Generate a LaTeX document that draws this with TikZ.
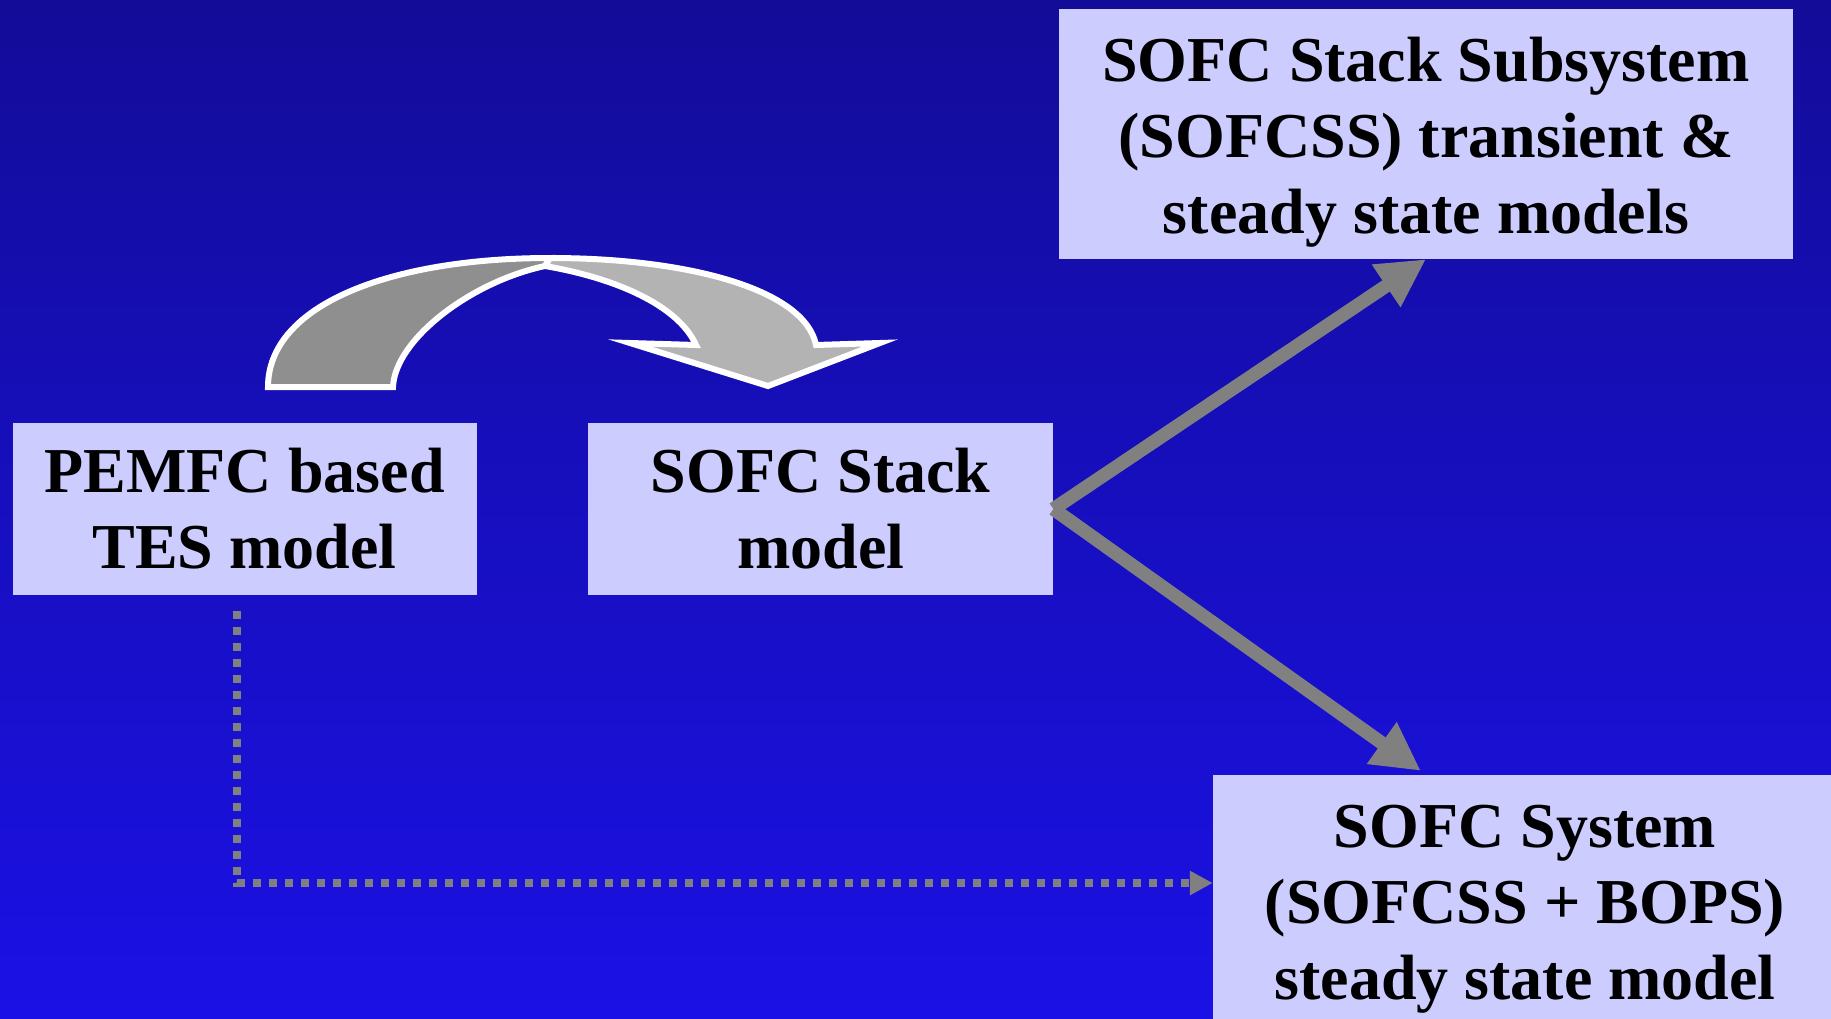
\documentclass[tikz,border=0pt]{standalone}
\usepackage{fontspec}
\setmainfont{Liberation Serif}
\usetikzlibrary{arrows.meta}

\definecolor{bgtop}{RGB}{19,12,152}
\definecolor{bgbot}{RGB}{27,17,230}
\definecolor{boxfill}{RGB}{204,204,255}
\definecolor{linkgray}{RGB}{128,128,128}
\definecolor{banddark}{RGB}{143,143,143}
\definecolor{bandlight}{RGB}{179,179,179}

% extra top room on the first line of the three-line boxes
\newcommand{\toproom}{\rule{0pt}{60pt}}

\begin{document}
\begin{tikzpicture}[x=1pt,y=-1pt,
  modelbox/.style={fill=boxfill, inner sep=0pt, align=center,
    font=\fontsize{64}{76}\selectfont\bfseries},
  flow/.style={draw=linkgray, line width=13.5pt,
    -{Triangle[length=48pt,width=48pt]}},
  feed/.style={draw=linkgray, line width=8pt, dash pattern=on 8pt off 8pt,
    -{Triangle[length=23pt,width=23pt]}},
  band/.style={draw=white, line width=6pt, line join=miter}]

\useasboundingbox (0,0) rectangle (1831,1018);
\clip (0,0) rectangle (1831,1018);

% slide background
\shade[top color=bgtop, bottom color=bgbot] (0,0) rectangle (1831,1018);

% curved arrow: rear band, then the front band with its head
\filldraw[band, fill=banddark]
  (268,387) .. controls (268,305) and (390,258) .. (550,258)
  -- (545,266) .. controls (470,282) and (395,340) .. (393,387) -- cycle;
\filldraw[band, fill=bandlight]
  (550,258) .. controls (690,258) and (805,290) .. (816,345)
  -- (880,343) -- (768,386) -- (630,343) -- (696,345)
  .. controls (678,305) and (615,278) .. (545,266) -- cycle;

% model boxes
\node[modelbox, minimum width=464pt, minimum height=172pt] (pemfc)
  at (244.6,508.5) {PEMFC based\\TES model};
\node[modelbox, minimum width=465pt, minimum height=172pt] (stack)
  at (820.7,509) {SOFC Stack\\model};
\node[modelbox, minimum width=734pt, minimum height=250pt] (sofcss)
  at (1426,134) {\toproom SOFC Stack Subsystem\\(SOFCSS) transient \&\\steady state models};
\node[modelbox, minimum width=624pt, minimum height=250pt] (system)
  at (1525,900) {\toproom SOFC System\\(SOFCSS + BOPS)\\steady state model};

% connectors
\draw[flow] (stack.east) -- (sofcss.south);
\draw[flow] (stack.east) -- ([xshift=208pt,yshift=4pt]system.north west);

\coordinate (tap) at ([xshift=-7.6pt,yshift=-16pt]pemfc.south);
\draw[feed] (tap) |- ([yshift=17pt]system.west);

\end{tikzpicture}
\end{document}
